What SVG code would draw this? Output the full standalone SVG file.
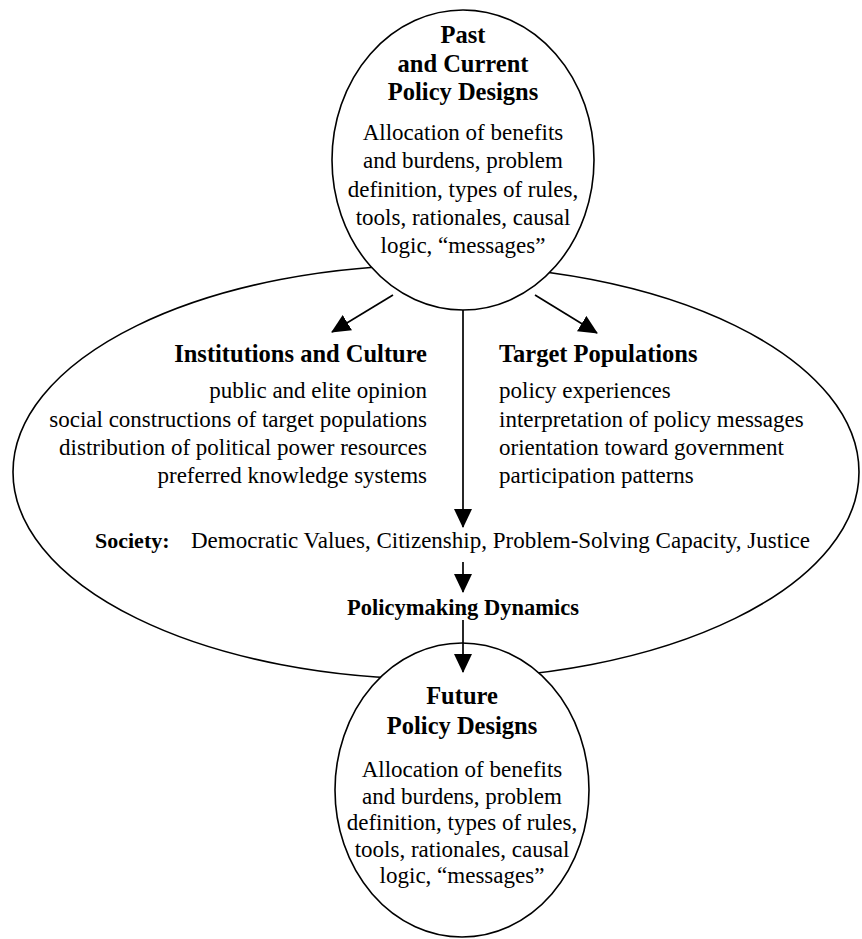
<svg xmlns="http://www.w3.org/2000/svg" width="862" height="939" viewBox="0 0 862 939">
<style>
.shape{fill:#fff;stroke:#000;stroke-width:1.6}
.t{font-family:"Liberation Serif","Times New Roman",serif;font-size:23px;fill:#000}
.b{font-family:"Liberation Serif","Times New Roman",serif;font-size:24.5px;font-weight:bold;fill:#000}
.c{text-anchor:middle}
.r{text-anchor:end}
.conn{stroke:#000;stroke-width:1.7;fill:none}
</style>
<defs>
<marker id="ah" markerUnits="userSpaceOnUse" markerWidth="19" markerHeight="18" viewBox="0 0 19 18" refX="18" refY="9" orient="auto">
<path d="M0,0 L19,9 L0,18 Z" fill="#000"/>
</marker>
</defs>
<rect width="862" height="939" fill="#fff"/>
<g id="society-context">
<ellipse class="shape" cx="436" cy="472" rx="423" ry="207"/>
</g>
<g id="past-current-policy-designs">
<ellipse class="shape" cx="463" cy="160" rx="131" ry="150"/>
<text class="b c" x="463" y="43">Past</text>
<text class="b c" x="463" y="72">and Current</text>
<text class="b c" x="463" y="100">Policy Designs</text>
<text class="t c" x="463" y="140">Allocation of benefits</text>
<text class="t c" x="463" y="168">and burdens, problem</text>
<text class="t c" x="463" y="197">definition, types of rules,</text>
<text class="t c" x="463" y="225">tools, rationales, causal</text>
<text class="t c" x="463" y="253">logic, “messages”</text>
</g>
<g id="future-policy-designs">
<ellipse class="shape" cx="462" cy="790" rx="127" ry="147"/>
<text class="b c" x="462" y="704">Future</text>
<text class="b c" x="462" y="734">Policy Designs</text>
<text class="t c" x="462" y="777">Allocation of benefits</text>
<text class="t c" x="462" y="804">and burdens, problem</text>
<text class="t c" x="462" y="830">definition, types of rules,</text>
<text class="t c" x="462" y="857">tools, rationales, causal</text>
<text class="t c" x="462" y="883">logic, “messages”</text>
</g>
<g id="institutions-culture">
<text class="b r" x="427" y="362">Institutions and Culture</text>
<text class="t r" x="427" y="398">public and elite opinion</text>
<text class="t r" x="427" y="427">social constructions of target populations</text>
<text class="t r" x="427" y="455">distribution of political power resources</text>
<text class="t r" x="427" y="483">preferred knowledge systems</text>
</g>
<g id="target-populations">
<text class="b" x="499" y="362">Target Populations</text>
<text class="t" x="499" y="398">policy experiences</text>
<text class="t" x="499" y="427">interpretation of policy messages</text>
<text class="t" x="499" y="455">orientation toward government</text>
<text class="t" x="499" y="483">participation patterns</text>
</g>
<g id="society">
<text class="b" x="95" y="548" style="font-size:22px">Society:</text>
<text class="t" x="191" y="548">Democratic Values, Citizenship, Problem-Solving Capacity, Justice</text>
</g>
<g id="policymaking-dynamics">
<text class="b c" x="463" y="615" style="font-size:22.5px">Policymaking Dynamics</text>
</g>
<g id="connectors">
<line class="conn" x1="393" y1="295" x2="332" y2="332" marker-end="url(#ah)"/>
<line class="conn" x1="535" y1="295" x2="597" y2="333" marker-end="url(#ah)"/>
<line class="conn" x1="463" y1="310" x2="463" y2="527" marker-end="url(#ah)"/>
<line class="conn" x1="463" y1="562" x2="463" y2="592" marker-end="url(#ah)"/>
<line class="conn" x1="463" y1="620" x2="463" y2="672" marker-end="url(#ah)"/>
</g>
</svg>
